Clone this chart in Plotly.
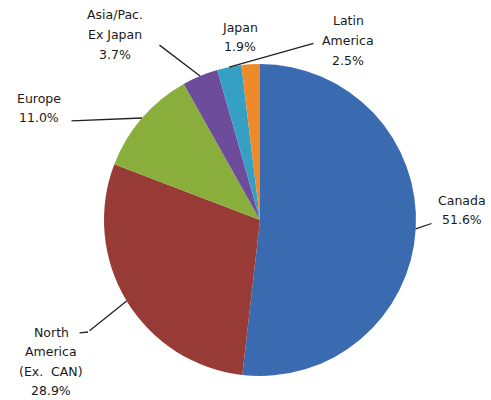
import math
import plotly.graph_objects as go

labels = ["Canada", "North America (Ex. CAN)", "Europe", "Asia/Pac. Ex Japan", "Latin America", "Japan"]
values = [51.6, 28.9, 11.0, 3.7, 2.5, 1.9]
label_lines = [["Canada", "51.6%"], ["North", "America", "(Ex.  CAN)", "28.9%"], ["Europe", "11.0%"],
               ["Asia/Pac.", "Ex Japan", "3.7%"], ["Latin", "America", "2.5%"], ["Japan", "1.9%"]]
colors = ["#3A6BB0", "#983A35", "#8AAE3C", "#6E4C9C", "#35A0C3", "#EE8A2A"]

W, H = 491, 400
CX, CY, R = 260, 220, 156  # pie center / radius in pixels (layout)

# first-line centre of each label (pixels), line spacing, leader start (pixels)
label_pos = [(462, 200), (51, 332), (39, 98), (115, 15), (348, 21), (240, 27)]
LINE_SP = 19.5
leader_start = [(433, 223), (88, 332), (70, 121), (158, 44), (315, 43), None]


def px(x):
    return x / W


def py(y):
    return 1 - y / H


fig = go.Figure(go.Pie(
    labels=labels, values=values, sort=False, direction="clockwise", rotation=0,
    marker=dict(colors=colors, line=dict(width=0)),
    textinfo="none", hoverinfo="label+percent", showlegend=False,
    domain=dict(x=[px(CX - R), px(CX + R)], y=[py(CY + R), py(CY - R)]),
))

annotations = []
total = sum(values)
cum = 0.0
for i, v in enumerate(values):
    mid = (cum + v / 2) / total * 2 * math.pi
    cum += v
    tipx = CX + R * math.sin(mid)
    tipy = CY - R * math.cos(mid)
    lx, ly = label_pos[i]
    for k, line in enumerate(label_lines[i]):
        annotations.append(dict(x=px(lx), y=py(ly + k * LINE_SP), xref="paper", yref="paper",
                                text=line, showarrow=False, xanchor="center", yanchor="middle",
                                font=dict(family="DejaVu Sans", size=12.5, color="#1a1a1a")))
    if leader_start[i] is not None:
        sx, sy = leader_start[i]
        annotations.append(dict(x=px(tipx), y=py(tipy), xref="paper", yref="paper", text="",
                                showarrow=True, arrowhead=0, arrowwidth=1.3, arrowcolor="#222",
                                ax=sx - tipx, ay=sy - tipy, axref="pixel", ayref="pixel",
                                standoff=0, startstandoff=0))
        if i == 1:
            annotations.append(dict(x=px(sx), y=py(sy), xref="paper", yref="paper", text="",
                                    showarrow=True, arrowhead=0, arrowwidth=1.3, arrowcolor="#222",
                                    ax=-10, ay=1, standoff=0))

fig.update_layout(width=W, height=H, margin=dict(l=0, r=0, t=0, b=0),
                  paper_bgcolor="white", plot_bgcolor="white", annotations=annotations)
fig.write_html("out.html", config={"displayModeBar": False},
               post_script="document.body.style.margin='0';document.body.style.overflow='hidden';")
